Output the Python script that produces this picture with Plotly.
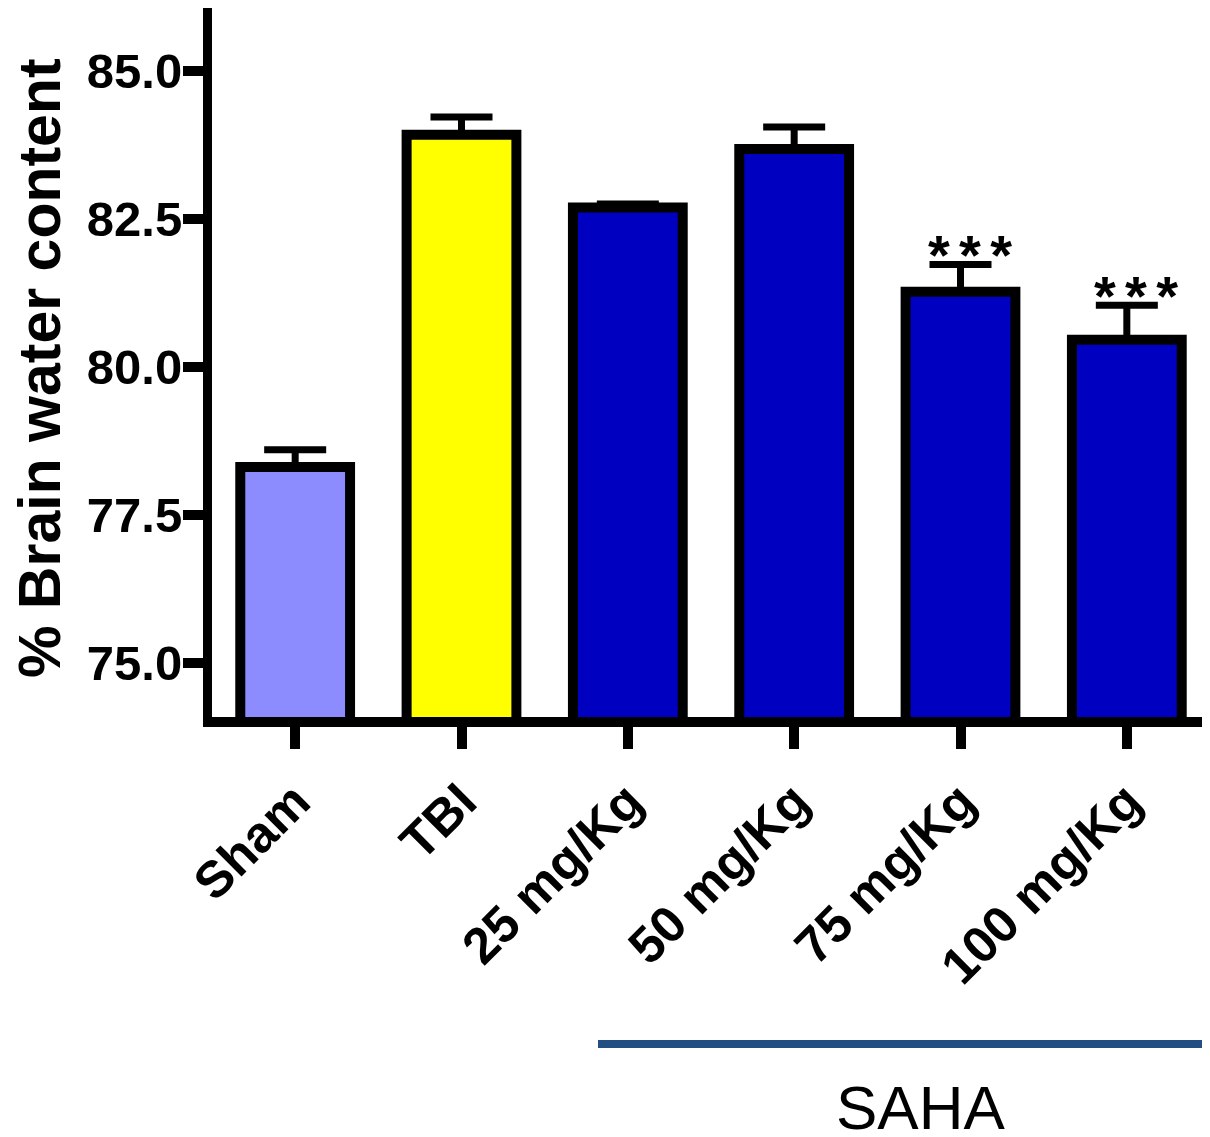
import plotly.graph_objects as go

categories = ["Sham", "TBI", "25 mg/Kg", "50 mg/Kg", "75 mg/Kg", "100 mg/Kg"]
means = [78.31, 83.92, 82.69, 83.68, 81.27, 80.46]
errors = [0.29, 0.30, 0.06, 0.37, 0.46, 0.58]
colors = ["#8C8CFF", "#FFFF00", "#0000C0", "#0000C0", "#0000C0", "#0000C0"]
sig_labels = ["", "", "", "", "***", "***"]
y_tickvals = [75.0, 77.5, 80.0, 82.5, 85.0]
y_ticktext = ["75.0", "77.5", "80.0", "82.5", "85.0"]
group_label = "SAHA"
y_title = "% Brain water content"

# page body has an 8px margin; figure is sized to fill the rest of the window
OFF = 8
W, H = 1210 - OFF, 1137 - OFF
ML, MR, MT, MB = 212 - OFF, 0, 0, 420
PW, PH = W - ML - MR, H - MT - MB


def px_x(x_ref):
    return (x_ref - OFF - ML) / PW


def px_y(y_ref):
    return (MT + PH - (y_ref - OFF)) / PH


FONT = "Liberation Sans, Arial, Helvetica, sans-serif"

fig = go.Figure()
fig.add_trace(go.Bar(
    x=categories,
    y=means,
    width=0.66,
    marker=dict(color=colors, line=dict(color="black", width=10)),
    error_y=dict(type="data", symmetric=False, array=errors,
                 arrayminus=[0] * len(errors), thickness=7, width=31,
                 color="black"),
    showlegend=False,
))

annotations = []
for c, m, e, s in zip(categories, means, errors, sig_labels):
    if s:
        annotations.append(dict(
            x=c, y=m + e, xref="x", yref="y",
            text="\u2006".join(s), showarrow=False,
            xanchor="center", yanchor="bottom", xshift=9, yshift=-24,
            font=dict(family=FONT, size=56, color="black", weight="bold"),
        ))

# y-axis title
annotations.append(dict(
    x=px_x(40), y=px_y(368), xref="paper", yref="paper",
    text=y_title, textangle=-90, showarrow=False,
    xanchor="center", yanchor="middle",
    font=dict(family=FONT, size=59, color="black", weight="bold"),
))

# group label
annotations.append(dict(
    x=px_x(920), y=px_y(1107), xref="paper", yref="paper",
    text=group_label, showarrow=False, xanchor="center", yanchor="middle",
    font=dict(family=FONT, size=62, color="black"),
))

fig.add_shape(type="line", xref="paper", yref="paper",
              x0=px_x(598), x1=1.0,
              y0=px_y(1044), y1=px_y(1044),
              line=dict(color="#224E82", width=8))

fig.update_layout(
    width=W, height=H,
    margin=dict(l=ML, r=MR, t=MT, b=MB, autoexpand=False),
    plot_bgcolor="white", paper_bgcolor="white",
    annotations=annotations,
    xaxis=dict(
        type="category", range=[-0.5, 5.5],
        showline=True, linecolor="black", linewidth=10,
        ticks="outside", ticklen=22, tickwidth=10, tickcolor="black",
        tickangle=-45, showgrid=False, zeroline=False,
        tickfont=dict(family=FONT, size=51, color="black", weight="bold"),
        ticklabelstandoff=2,
    ),
    yaxis=dict(
        range=[74.09, 86.06],
        tickvals=y_tickvals, ticktext=y_ticktext,
        showline=True, linecolor="black", linewidth=9,
        ticks="outside", ticklen=20, tickwidth=10, tickcolor="black",
        showgrid=False, zeroline=False,
        tickfont=dict(family=FONT, size=49, color="black", weight="bold"),
        ticklabelstandoff=-9,
    ),
)

fig.write_html("out.html")
